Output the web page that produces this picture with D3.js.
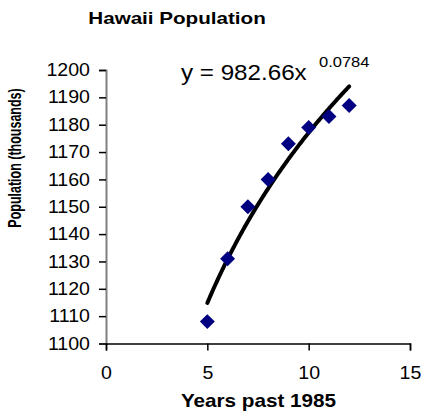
<!DOCTYPE html>
<html>
<head>
<meta charset="utf-8">
<script src="https://cdn.jsdelivr.net/npm/d3@7/dist/d3.min.js"></script>
<style>
  html, body { margin: 0; padding: 0; background: #fff; }
  svg text { font-family: "Liberation Sans", Arial, sans-serif; fill: #000; }
</style>
</head>
<body>
<script>
// ---- data ----
const title = "Hawaii Population";
const xLabel = "Years past 1985";
const yLabel = "Population (thousands)";
const years = [5, 6, 7, 8, 9, 10, 11, 12];
const population = [1108, 1131, 1150, 1160, 1173, 1179, 1183, 1187];
const xTicks = [0, 5, 10, 15];
const yTicks = [1100, 1110, 1120, 1130, 1140, 1150, 1160, 1170, 1180, 1190, 1200];
const fitA = 982.66;
const fitB = 0.0784;
const fitRange = [5, 12];
const equationMain = "y = 982.66x";
const equationExp = "0.0784";

// ---- chart ----
const W = 424, H = 417;
const svg = d3.select("body").append("svg").attr("width", W).attr("height", H);

const x = d3.scaleLinear().domain([0, 15]).range([106, 410]);
const y = d3.scaleLinear().domain([1100, 1200]).range([343.5, 70]);

// y axis
const yAxis = svg.append("g").attr("transform", `translate(${x(0)},0)`)
  .call(d3.axisLeft(y).tickValues(yTicks).tickSize(7).tickPadding(9).tickFormat(d3.format("d")));
yAxis.select(".domain").attr("stroke", "#808080").attr("stroke-width", 2);
yAxis.selectAll(".tick line").attr("stroke", "#000").attr("stroke-width", 1.5);
yAxis.selectAll(".tick text").attr("font-size", 17.5).attr("font-family", "Liberation Sans, Arial, sans-serif")
  .attr("fill", "#000")
  .each(function() {
    d3.select(this).attr("transform", "scale(1.12,1)").attr("x", (-16) / 1.12);
  });

// x axis
const xAxis = svg.append("g").attr("transform", `translate(0,${y(1100)})`)
  .call(d3.axisBottom(x).tickValues(xTicks).tickSize(7).tickPadding(16).tickFormat(d3.format("d")));
xAxis.select(".domain").attr("stroke", "#000").attr("stroke-width", 1.5);
xAxis.selectAll(".tick line").attr("stroke", "#000").attr("stroke-width", 1.5);
xAxis.selectAll(".tick text").attr("font-size", 17.5).attr("font-family", "Liberation Sans, Arial, sans-serif")
  .attr("fill", "#000").attr("transform", "scale(1.12,1)");

// trend line
const fitXs = d3.range(fitRange[0], fitRange[1] + 0.001, 0.05);
const line = d3.line().x(d => x(d)).y(d => y(fitA * Math.pow(d, fitB)));
svg.append("path").datum(fitXs).attr("d", line)
  .attr("fill", "none").attr("stroke", "#000").attr("stroke-width", 4).attr("stroke-linecap", "round");

// points
const diamond = d3.symbol().type(d3.symbolSquare).size(112);
svg.selectAll(".pt").data(years).join("path")
  .attr("class", "pt")
  .attr("d", diamond)
  .attr("transform", (d, i) => `translate(${x(d)},${y(population[i])}) rotate(45)`)
  .attr("fill", "#000080");

// title
svg.append("text").attr("transform", "translate(177,24) scale(1.25,1)")
  .attr("text-anchor", "middle").attr("font-size", 16.5).attr("font-weight", "bold").text(title);

// equation
svg.append("text").attr("transform", "translate(181,80) scale(1.1,1)")
  .attr("font-size", 22).text(equationMain);
svg.append("text").attr("transform", "translate(319,67) scale(1.1,1)")
  .attr("font-size", 15).text(equationExp);

// axis labels
svg.append("text").attr("transform", "translate(258.5,407) scale(1.15,1)")
  .attr("text-anchor", "middle").attr("font-size", 18).attr("font-weight", "bold").text(xLabel);
svg.append("text").attr("transform", "translate(21,158) rotate(-90) scale(1,1.4)")
  .attr("text-anchor", "middle").attr("font-size", 12.5).attr("font-weight", "bold").text(yLabel);
</script>
</body>
</html>
